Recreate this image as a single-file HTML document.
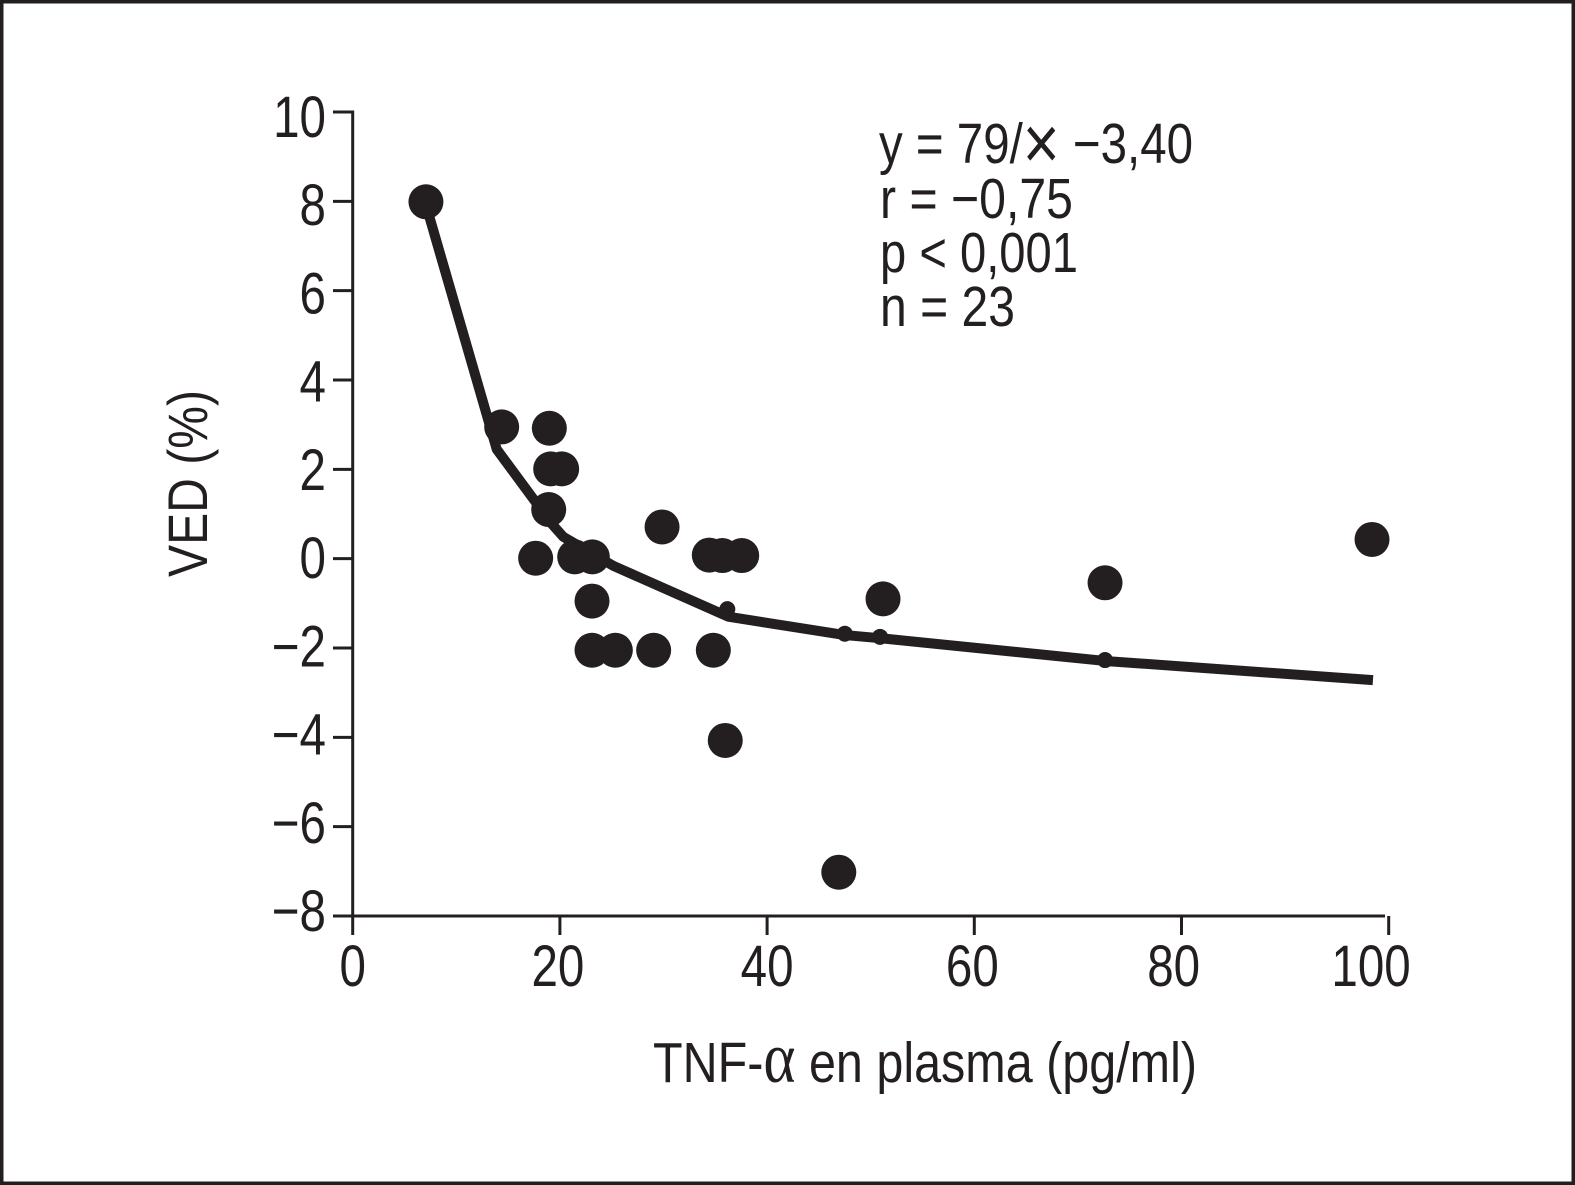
<!DOCTYPE html>
<html lang="es">
<head>
<meta charset="utf-8">
<title>VED vs TNF-α</title>
<style>
html,body{margin:0;padding:0;background:#fff;}
svg{display:block;}
text{font-family:"Liberation Sans",sans-serif;fill:#231f20;}
</style>
</head>
<body>
<svg id="chart" xmlns="http://www.w3.org/2000/svg" width="1575" height="1185" viewBox="0 0 1575 1185">
  <rect x="1.75" y="1.75" width="1571.5" height="1181.5" fill="#fff" stroke="#231f20" stroke-width="3.5"/>
  <g id="axes"></g>
  <g id="marks"></g>
  <g font-size="57">
    <text x="879" y="163" textLength="314" lengthAdjust="spacingAndGlyphs">y = 79/<tspan font-size="76" dy="6">×</tspan><tspan dy="-6"> −3,40</tspan></text>
    <text x="880" y="218" textLength="193" lengthAdjust="spacingAndGlyphs">r = −0,75</text>
    <text x="880" y="272" textLength="198" lengthAdjust="spacingAndGlyphs">p &lt; 0,001</text>
    <text x="880" y="326" textLength="135" lengthAdjust="spacingAndGlyphs">n = 23</text>
  </g>
  <text x="653" y="1082" font-size="57" textLength="544" lengthAdjust="spacingAndGlyphs">TNF-<tspan font-family="Liberation Serif" font-size="72">α</tspan> en plasma (pg/ml)</text>
  <text transform="translate(207,577) rotate(-90)" font-size="56" textLength="187" lengthAdjust="spacingAndGlyphs">VED (%)</text>
</svg>
<script>
const xTicks = [0, 20, 40, 60, 80, 100];
const yTicks = [10, 8, 6, 4, 2, 0, -2, -4, -6, -8];
const xTickLabels = ["0", "20", "40", "60", "80", "100"];
const yTickLabels = ["10", "8", "6", "4", "2", "0", "−2", "−4", "−6", "−8"];

const pointX = [7.07, 14.38, 18.98, 19.11, 20.17, 18.92, 17.66, 21.43, 23.13, 23.10, 23.10, 25.35, 29.05, 34.81, 29.86, 34.42, 35.68, 37.55, 35.96, 46.92, 51.19, 72.62, 98.39];
const pointY = [7.99, 2.95, 2.92, 2.01, 2.01, 1.10, 0.01, 0.04, 0.04, -0.95, -2.05, -2.05, -2.05, -2.05, 0.71, 0.08, 0.07, 0.07, -4.07, -7.02, -0.90, -0.54, 0.43];

const fittedX = [36.16, 47.50, 50.90, 72.62];
const fittedY = [-1.13, -1.68, -1.75, -2.27];

const curveX = [7.07, 13.90, 19.21, 20.33, 22.26, 25.15, 36.25, 47.50, 50.90, 72.62, 98.48];
const curveY = [7.92, 2.45, 0.78, 0.49, 0.23, -0.16, -1.30, -1.71, -1.78, -2.29, -2.72];

const INK = "#231f20";
const X0 = 352.7, X100 = 1388.7;
const Y10 = 112, YM8 = 916;
const sx = v => X0 + (v / 100) * (X100 - X0);
const sy = v => YM8 - ((v + 8) / 18) * (YM8 - Y10);

const NS = "http://www.w3.org/2000/svg";
const axes = document.getElementById("axes");
const marks = document.getElementById("marks");

function make(tag, parent, attrs) {
  const el = document.createElementNS(NS, tag);
  for (const k in attrs) el.setAttribute(k, attrs[k]);
  parent.appendChild(el);
  return el;
}

const yAxisLine = make("line", axes, {x1: sx(0), x2: sx(0), y1: Y10 - 1.5, y2: 935, stroke: INK, "stroke-width": 3});



const xAxisLine = make("line", axes, {x1: 333, x2: 1385, y1: YM8, y2: YM8, stroke: INK, "stroke-width": 3});



yTicks.forEach((v, i) => {
  const t = make("line", axes, {x1: 333, x2: sx(0), y1: sy(v), y2: sy(v), stroke: INK, "stroke-width": 3});
  
  
  const base = sy(v) + 15 + ((v + 8) / 18) * 10;
  const lbl = make("text", axes, {"text-anchor": "end", "font-size": 58, transform: `translate(326,${base}) scale(0.82,1)`});
  lbl.textContent = yTickLabels[i];
  
  
});

xTicks.forEach((v, i) => {
  if (v > 0) {
    const t = make("line", axes, {x1: sx(v), x2: sx(v), y1: YM8, y2: 935, stroke: INK, "stroke-width": 3});
    
    
  }
  const nudge = -Math.pow(Math.max(0, v - 40), 2) * 0.0049 - (v === 20 ? 2 : 0);
  const lbl = make("text", axes, {"text-anchor": "middle", "font-size": 58, transform: `translate(${sx(v) + nudge},986) scale(0.82,1)`});
  lbl.textContent = xTickLabels[i];
  
  
});

const curve = make("polyline", marks, {
  points: curveX.map((x, i) => sx(x) + "," + sy(curveY[i])).join(" "),
  fill: "none", stroke: INK, "stroke-width": 10, "stroke-linejoin": "round"
});



pointX.forEach((x, i) => {
  const c = make("circle", marks, {cx: sx(x), cy: sy(pointY[i]), r: 17.5, fill: INK});
  
  
});

fittedX.forEach((x, i) => {
  const c = make("circle", marks, {cx: sx(x), cy: sy(fittedY[i]), r: 8, fill: INK});
  
  
});
</script>
</body>
</html>
